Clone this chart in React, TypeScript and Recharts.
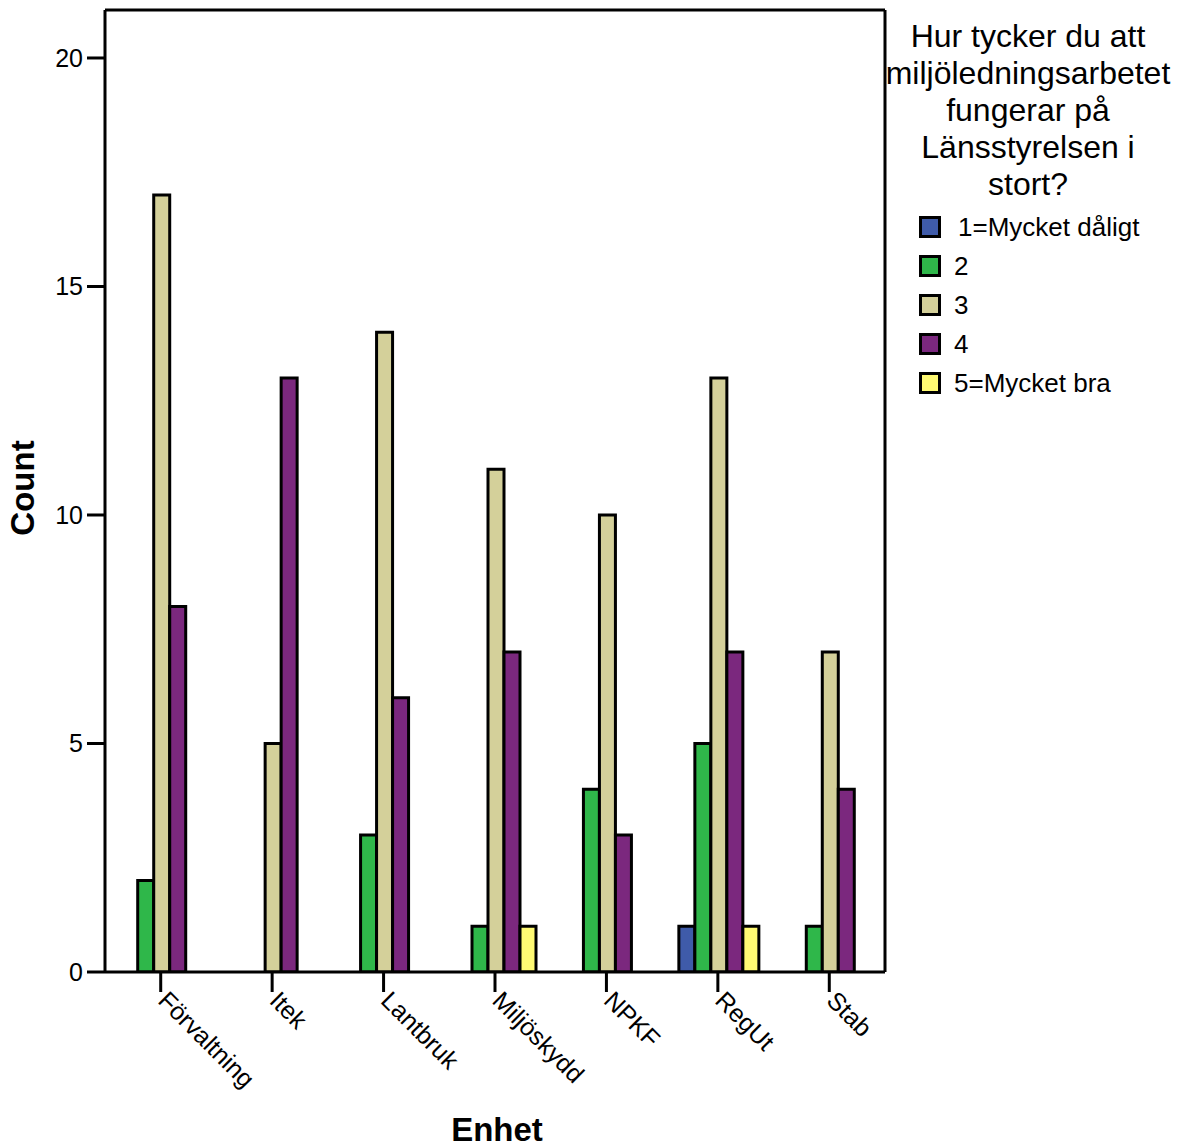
import React from 'react';
import { BarChart, Bar, XAxis, YAxis, Legend, Label, CartesianGrid } from 'recharts';

const categories = ['Förvaltning', 'Itek', 'Lantbruk', 'Miljöskydd', 'NPKF', 'RegUt', 'Stab'];
const seriesNames = ['1=Mycket dåligt', '2', '3', '4', '5=Mycket bra'];
const s1 = [0, 0, 0, 0, 0, 1, 0];
const s2 = [2, 0, 3, 1, 4, 5, 1];
const s3 = [17, 5, 14, 11, 10, 13, 7];
const s4 = [8, 13, 6, 7, 3, 7, 4];
const s5 = [0, 0, 0, 1, 0, 1, 0];
const yTicks = [0, 5, 10, 15, 20];
const colors = ['#3F5BA9', '#2FB74A', '#D4D09A', '#7B287E', '#FFFA73'];
const legendTitle = ['Hur tycker du att', 'miljöledningsarbetet', 'fungerar på', 'Länsstyrelsen i', 'stort?'];

const seriesValues = [s1, s2, s3, s4, s5];
const data = categories.map((c, i) => {
  const row: any = { name: c };
  seriesValues.forEach((s, k) => { row['s' + k] = s[i]; });
  return row;
});

const FONT = '"Liberation Sans", Arial, Helvetica, sans-serif';

const XTick = (props: any) => {
  const { x, y, payload } = props;
  return (
    <text
      x={x - 4}
      y={y + 8}
      transform={`rotate(45, ${x - 4}, ${y + 8})`}
      textAnchor="start"
      fontFamily={FONT}
      fontSize={25}
      fill="#000"
    >
      {payload.value}
    </text>
  );
};

const LegendContent = (props: any) => {
  const payload = props.payload || [];
  return (
    <div style={{ position: 'relative', width: 300, height: 420, fontFamily: FONT, color: '#000' }}>
      {legendTitle.map((t, i) => (
        <div
          key={t}
          style={{
            position: 'absolute', left: -7, width: 300, top: 18 + i * 37,
            textAlign: 'center', fontSize: 32, lineHeight: '37px', whiteSpace: 'nowrap',
          }}
        >
          {t}
        </div>
      ))}
      {payload.map((p: any, i: number) => (
        <div key={p.value} style={{ position: 'absolute', left: 34, top: 216 + i * 39, height: 22, display: 'flex', alignItems: 'center' }}>
          <div style={{ width: 22, height: 22, boxSizing: 'border-box', border: '3px solid #000', background: p.color }} />
          <div style={{ marginLeft: i === 0 ? 17 : 13, fontSize: 26, lineHeight: '22px', whiteSpace: 'nowrap' }}>{p.value}</div>
        </div>
      ))}
    </div>
  );
};

export default function App() {
  return (
    <div style={{ position: 'absolute', left: 0, top: 0 }}>
      <BarChart
        width={1185}
        height={1148}
        data={data}
        margin={{ top: 10, right: 0, left: 0, bottom: 0 }}
        barCategoryGap="15%"
        barGap={0}
      >
        <CartesianGrid
          stroke="#000"
          strokeWidth={3}
          horizontalCoordinatesGenerator={(p: any) => [p.offset.top]}
          verticalCoordinatesGenerator={(p: any) => [p.offset.left + p.offset.width]}
        />
        <XAxis
          dataKey="name"
          height={176}
          tickSize={20}
          tick={<XTick />}
          interval={0}
          axisLine={{ stroke: '#000', strokeWidth: 3 }}
          tickLine={{ stroke: '#000', strokeWidth: 3 }}
        >
          <Label
            content={() => (
              <text x={497} y={1141} textAnchor="middle" fontFamily={FONT} fontSize={33} fontWeight="bold" fill="#000">
                Enhet
              </text>
            )}
          />
        </XAxis>
        <YAxis
          width={105}
          domain={[0, 21.05]}
          ticks={yTicks}
          tickSize={18}
          tickMargin={4}
          tick={{ fill: '#000', fontSize: 25, fontFamily: FONT }}
          axisLine={{ stroke: '#000', strokeWidth: 3 }}
          tickLine={{ stroke: '#000', strokeWidth: 3 }}
          allowDataOverflow
        >
          <Label
            content={() => (
              <text x={34} y={488} transform="rotate(-90, 34, 488)" textAnchor="middle" fontFamily={FONT} fontSize={33} fontWeight="bold" fill="#000">
                Count
              </text>
            )}
          />
        </YAxis>
        <Legend
          layout="vertical"
          align="right"
          verticalAlign="top"
          width={300}
          content={<LegendContent />}
          wrapperStyle={{ position: 'absolute', left: 885, top: 0, width: 300, height: 420 }}
        />
        {seriesNames.map((n, k) => (
          <Bar
            key={n}
            dataKey={'s' + k}
            name={n}
            fill={colors[k]}
            stroke="#000"
            strokeWidth={3}
            isAnimationActive={false}
          />
        ))}
      </BarChart>
    </div>
  );
}
